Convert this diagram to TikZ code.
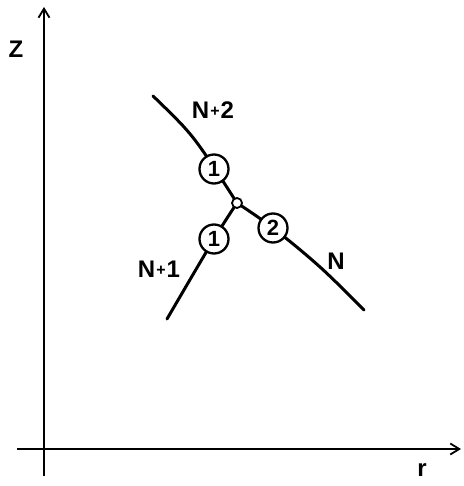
\documentclass[tikz,border=0pt]{standalone}
\usepackage{fontspec}
\setmainfont{Liberation Sans}
\usetikzlibrary{arrows.meta}
\newcommand{\smplus}{\kern1pt\raisebox{1.5pt}{\fontsize{16}{16}\selectfont+}\kern1pt}
\begin{document}
\begin{tikzpicture}[x=1pt,y=-1pt,
  axis/.style={line width=1.8pt,-{Straight Barb[length=9pt,width=11pt,line width=1.8pt]}},
  curve/.style={line width=3pt,line cap=round},
  num/.style={draw,circle,line width=2.3pt,fill=white,minimum size=29pt,inner sep=0pt,font=\fontsize{22}{22}\selectfont\bfseries},
  junc/.style={draw,circle,line width=1.8pt,fill=white,minimum size=10pt,inner sep=0pt},
  lab/.style={font=\fontsize{24}{24}\selectfont\bfseries,inner sep=0pt}]
\useasboundingbox (0,0) rectangle (463,486);
% axes
\coordinate (zb) at (44,476);
\coordinate (zt) at (44,7);
\coordinate (rl) at (17,449);
\coordinate (rr) at (461,449);
\draw[axis] (zb) -- (zt);
\draw[axis] (rl) -- (rr);
\node[lab] (zlab) at (16,49) {Z};
\node[lab] (rlab) at (422,470) {r};
% curves
\coordinate (s2) at (153,96);
\coordinate (j) at (237,203);
\coordinate (sN) at (364,310);
\coordinate (s1) at (167,319);
\draw[curve] plot[smooth,tension=0.6] coordinates {(153,96) (184,127) (205,154) (237,203)};
\draw[curve] plot[smooth,tension=0.6] coordinates {(237,203) (273,228) (320,267) (364,310)};
\draw[curve] plot[smooth,tension=0.6] coordinates {(167,319) (214,239) (237,203)};
% nodes
\node[num] (c1a) at (214,169) {1};
\node[num] (c1b) at (214,239) {1};
\node[num] (c2) at (273,228) {2};
\node[junc] (jn) at (j) {};
% labels
\node[lab] (l2) at (213,110) {N\smplus2};
\node[lab] (l1) at (159,269) {N\smplus1};
\node[lab] (l0) at (336,261) {N};
\end{tikzpicture}
\end{document}
